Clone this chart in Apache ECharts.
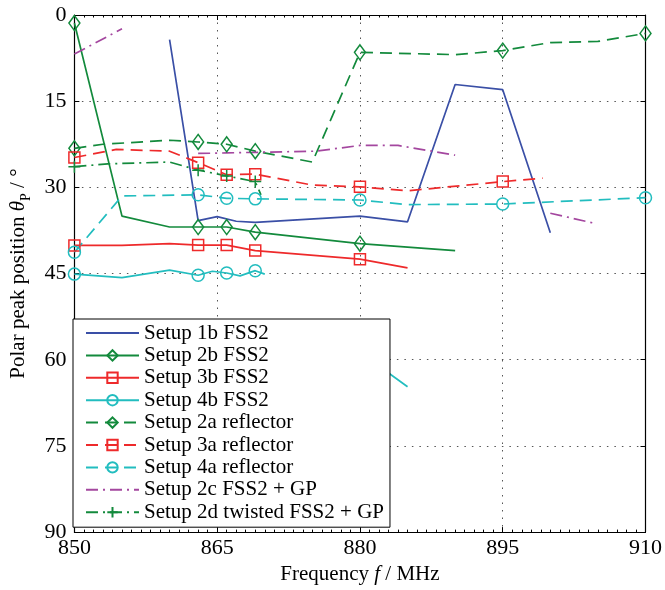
<!DOCTYPE html>
<html>
<head>
<meta charset="utf-8">
<script src="https://cdn.jsdelivr.net/npm/echarts@6/dist/echarts.min.js"></script>
<style>
html,body{margin:0;padding:0;background:#fff;}
#chart{width:665px;height:590px;}
</style>
</head>
<body>
<div id="chart"></div>
<script>
// ---- data (frequency in MHz, polar peak position in degrees) ----
const xTicks = [850, 865, 880, 895, 910];
const yTicks = [0, 15, 30, 45, 60, 75, 90];
const markedFreqs = [850, 863, 866, 869, 880, 895, 910];

const s1b_f = [860, 863, 865, 867, 869, 880, 885, 890, 895, 900];
const s1b_t = [4.3, 35.8, 35.1, 35.9, 36.1, 35.0, 36.0, 12.1, 13.0, 37.9];

const s2b_f = [850, 855, 860, 863, 866, 869, 880, 890];
const s2b_t = [1.4, 35.0, 36.9, 36.9, 36.9, 37.8, 39.8, 41.0];

const s3b_f = [850, 855, 860, 863, 866, 869, 880, 885];
const s3b_t = [40.1, 40.1, 39.8, 40.05, 40.05, 41.0, 42.5, 44.0];

const s4b_f = [850, 855, 860, 863, 864.5, 866, 867.4, 869, 870, 875, 880, 885];
const s4b_t = [45.1, 45.7, 44.4, 45.3, 44.6, 44.9, 45.4, 44.5, 45.1, null, 58.7, 64.7];

const s2a_f = [850, 853, 860, 863, 866, 869, 875, 880, 890, 895, 900, 905, 910];
const s2a_t = [23.2, 22.5, 21.8, 22.1, 22.5, 23.7, 25.6, 6.5, 6.9, 6.2, 4.8, 4.6, 3.2];

const s3a_f = [850, 854.4, 860, 863, 866, 869, 875, 880, 885, 895, 899.2];
const s3a_t = [24.8, 23.4, 23.7, 25.7, 27.8, 27.7, 29.6, 29.9, 30.6, 29.0, 28.4];

const s4a_f = [850, 855, 863, 866, 869, 880, 885, 895, 910];
const s4a_t = [41.3, 31.5, 31.3, 31.9, 32.0, 32.2, 33.0, 32.9, 31.8];

const s2c_f = [850, 855, 859, 863, 866, 875.4, 880, 884, 890, 895, 900, 904.5];
const s2c_t = [6.8, 2.4, null, 24.1, 24.0, 23.7, 22.7, 22.7, 24.4, null, 34.5, 36.2];

const s2d_f = [850, 853.5, 860, 863, 866, 869, 869.6];
const s2d_t = [26.4, 25.9, 25.6, 27.0, 28.0, 29.0, 31.3];

// ---- styling ----
const FONT = '"Liberation Serif", "DejaVu Serif", serif';
const C_BLUE = '#3a4fa6', C_GREEN = '#138a3c', C_RED = '#ee2a2b', C_CYAN = '#22bdbf', C_PURPLE = '#a4479f';
const DASH = [12, 7];
const DASHDOT = [12, 5, 2, 5];
const PLUS = 'path://M0,5L10,5M5,0L5,10';

function mk(name, fs, ts, color, lineType, symbol, symbolSize) {
  const data = fs.map((f, i) => {
    const v = ts[i] === null ? '-' : ts[i];
    const item = { value: [f, v] };
    if (markedFreqs.indexOf(f) < 0) item.symbol = 'none';
    return item;
  });
  const noSym = !symbol || symbol === 'none';
  return {
    name: name,
    type: 'line',
    data: data,
    color: color,
    symbol: symbol || 'none',
    symbolSize: symbolSize || 10,
    showSymbol: true,
    connectNulls: false,
    animation: false,
    lineStyle: { color: color, width: 1.7, type: lineType },
    itemStyle: { color: 'rgba(255,255,255,0)', borderColor: noSym ? 'rgba(255,255,255,0)' : color, borderWidth: noSym ? 0 : 1.5 },
    emphasis: { disabled: true },
    z: 3
  };
}

const series = [
  mk('Setup 1b FSS2', s1b_f, s1b_t, C_BLUE, 'solid', 'none'),
  mk('Setup 2b FSS2', s2b_f, s2b_t, C_GREEN, 'solid', 'diamond', [11, 15]),
  mk('Setup 3b FSS2', s3b_f, s3b_t, C_RED, 'solid', 'rect', 11),
  mk('Setup 4b FSS2', s4b_f, s4b_t, C_CYAN, 'solid', 'circle', 12),
  mk('Setup 2a reflector', s2a_f, s2a_t, C_GREEN, DASH, 'diamond', [11, 15]),
  mk('Setup 3a reflector', s3a_f, s3a_t, C_RED, DASH, 'rect', 11),
  mk('Setup 4a reflector', s4a_f, s4a_t, C_CYAN, DASH, 'circle', 12),
  mk('Setup 2c FSS2 + GP', s2c_f, s2c_t, C_PURPLE, DASHDOT, 'none'),
  mk('Setup 2d twisted FSS2 + GP', s2d_f, s2d_t, C_GREEN, DASHDOT, PLUS, 12)
];

const gridLine = { show: true, lineStyle: { color: '#555', width: 1, type: [1.5, 6] } };

const chart = echarts.init(document.getElementById('chart'), null, { renderer: 'canvas' });
chart.setOption({
  animation: false,
  backgroundColor: '#fff',
  grid: { left: 64, right: 15, top: 15, bottom: 52, containLabel: false },
  xAxis: [{
    type: 'value', min: xTicks[0], max: xTicks[xTicks.length - 1], interval: 15,
    name: '{a|Frequency }{i|f}{a| / MHz}',
    nameLocation: 'middle', nameGap: 31,
    nameTextStyle: { color: '#000', fontFamily: FONT, fontSize: 21,
      rich: { a: { fontFamily: FONT, fontSize: 21, color: '#000' },
              i: { fontFamily: FONT, fontSize: 21, fontStyle: 'italic', color: '#000' } } },
    axisLine: { show: true, onZero: false, lineStyle: { color: '#000', width: 1.2 } },
    axisTick: { show: true, inside: true, length: 5, lineStyle: { color: '#000' } },
    minorTick: { show: true, splitNumber: 15, length: 2.5, lineStyle: { color: '#000' } },
    axisLabel: { color: '#000', fontFamily: FONT, fontSize: 22, margin: 5 },
    splitLine: gridLine
  }, {
    type: 'value', position: 'top', min: 850, max: 910, interval: 15,
    axisLine: { show: true, onZero: false, lineStyle: { color: '#000', width: 1.2 } },
    axisTick: { show: true, inside: true, length: 5, lineStyle: { color: '#000' } },
    minorTick: { show: true, splitNumber: 15, length: 2.5, lineStyle: { color: '#000' } },
    axisLabel: { show: false }, splitLine: { show: false }
  }],
  yAxis: [{
    type: 'value', inverse: true, min: yTicks[0], max: yTicks[yTicks.length - 1], interval: 15,
    name: '{a|Polar peak position }{i|θ}{s|P}{a| / °}',
    nameLocation: 'middle', nameGap: 36,
    nameTextStyle: { color: '#000', fontFamily: FONT, fontSize: 21,
      rich: { a: { fontFamily: FONT, fontSize: 21, color: '#000', lineHeight: 30 },
              i: { fontFamily: FONT, fontSize: 21, fontStyle: 'italic', color: '#000', lineHeight: 30 },
              s: { fontFamily: FONT, fontSize: 14, color: '#000', verticalAlign: 'bottom', lineHeight: 14 } } },
    axisLine: { show: true, onZero: false, lineStyle: { color: '#000', width: 1.2 } },
    axisTick: { show: true, inside: true, length: 5, lineStyle: { color: '#000' } },
    axisLabel: { color: '#000', fontFamily: FONT, fontSize: 22, margin: 8 },
    splitLine: gridLine
  }, {
    type: 'value', inverse: true, position: 'right', min: 0, max: 90, interval: 15,
    axisLine: { show: true, onZero: false, lineStyle: { color: '#000', width: 1.2 } },
    axisTick: { show: true, inside: true, length: 5, lineStyle: { color: '#000' } },
    axisLabel: { show: false }, splitLine: { show: false }
  }],
  legend: {
    show: true, orient: 'vertical', left: 73, top: 319,
    backgroundColor: '#fff', borderColor: '#000', borderWidth: 1, borderRadius: 0,
    padding: [3, 6, 4, 12],
    itemWidth: 53, itemHeight: 13, itemGap: 0.4,
    textStyle: { color: '#000', fontFamily: FONT, fontSize: 21, lineHeight: 22 },
    data: series.map(s => s.name),
    selectedMode: false
  },
  series: series
});
</script>
</body>
</html>
